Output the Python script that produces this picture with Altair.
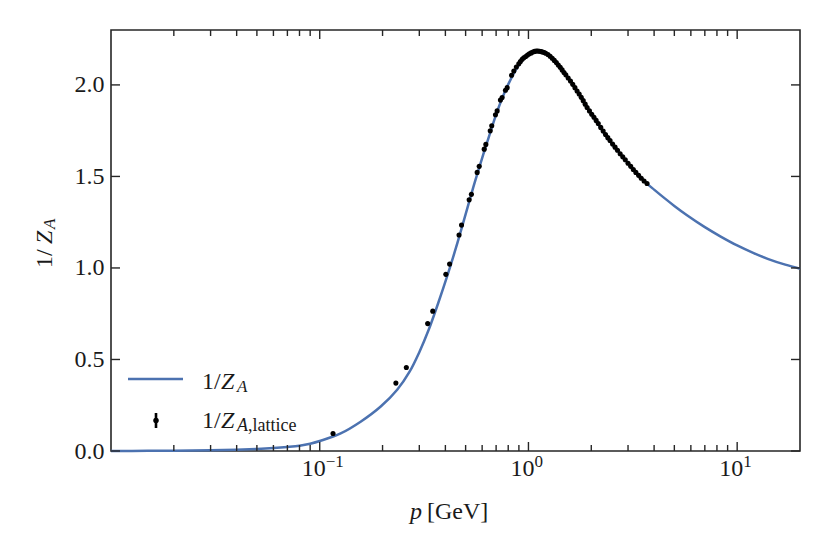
import altair as alt
import pandas as pd

FONT = "Liberation Serif"
TXT = "#1a1a1a"
AX = "#262626"
BLUE = "#4C72B0"
W, H = 689, 421

# ---- fitted curve 1/Z_A ----
p_curve = [0.01, 0.015, 0.02, 0.03, 0.04, 0.05, 0.06, 0.07, 0.08, 0.09,
           0.101, 0.126, 0.157, 0.196, 0.235, 0.27, 0.30, 0.3334, 0.37, 0.408,
           0.45, 0.494, 0.544, 0.6, 0.656, 0.7, 0.75, 0.8, 0.85, 0.9,
           0.95, 1.0, 1.05, 1.1, 1.15, 1.2, 1.32, 1.45, 1.59, 1.75,
           1.91, 2.1, 2.29, 2.5, 2.75, 3.0, 3.19, 3.4, 3.7, 4.0,
           4.5, 5.0, 5.75, 7.0, 8.3, 10.0, 12.0, 14.0, 17.0, 20.0]
v_curve = [0.0, 0.001, 0.002, 0.004, 0.007, 0.011, 0.016, 0.022, 0.029, 0.040,
           0.056, 0.096, 0.160, 0.243, 0.335, 0.435, 0.540, 0.665, 0.810, 0.955,
           1.112, 1.272, 1.440, 1.600, 1.740, 1.838, 1.930, 2.003, 2.062, 2.108,
           2.143, 2.167, 2.179, 2.185, 2.183, 2.177, 2.135, 2.082, 2.021, 1.950,
           1.877, 1.806, 1.740, 1.680, 1.624, 1.572, 1.537, 1.503, 1.461, 1.428,
           1.380, 1.339, 1.288, 1.223, 1.173, 1.123, 1.081, 1.050, 1.018, 0.996]

# ---- lattice data 1/Z_A,lattice ----
p_lat = [0.1158, 0.2317, 0.260, 0.329, 0.348, 0.402, 0.419, 0.465, 0.478, 0.520,
         0.533, 0.568, 0.581, 0.614, 0.625, 0.656, 0.667, 0.695, 0.708, 0.734,
         0.748, 0.776, 0.791, 0.830, 0.851, 0.875, 0.899, 0.915, 0.933,
         0.95, 0.97, 0.99, 1.01, 1.03, 1.05, 1.07, 1.09, 1.11, 1.13,
         1.15, 1.17, 1.19, 1.21, 1.24, 1.27, 1.30, 1.33, 1.36, 1.39,
         1.42, 1.45, 1.48, 1.51, 1.55, 1.59, 1.63, 1.67, 1.71, 1.75,
         1.79, 1.83, 1.87, 1.91, 1.96, 2.01, 2.06, 2.11, 2.16, 2.22,
         2.28, 2.34, 2.40, 2.46, 2.53, 2.60, 2.67, 2.75, 2.83, 2.91,
         3.00, 3.09, 3.18, 3.27, 3.37, 3.47, 3.58, 3.70]
v_lat = [0.096, 0.371, 0.456, 0.696, 0.764, 0.965, 1.021, 1.180, 1.234, 1.372,
         1.402, 1.522, 1.555, 1.649, 1.675, 1.749, 1.777, 1.837, 1.858, 1.917,
         1.931, 1.971, 1.985, 2.053, 2.076, 2.098, 2.116, 2.128, 2.140,
         2.148, 2.155, 2.163, 2.170, 2.175, 2.180, 2.183, 2.185, 2.185, 2.184,
         2.182, 2.180, 2.177, 2.173, 2.166, 2.157, 2.146, 2.134, 2.122, 2.109,
         2.096, 2.082, 2.068, 2.055, 2.038, 2.021, 2.003, 1.985, 1.967, 1.950,
         1.932, 1.914, 1.895, 1.877, 1.858, 1.840, 1.823, 1.806, 1.789, 1.768,
         1.748, 1.729, 1.712, 1.696, 1.677, 1.660, 1.643, 1.624, 1.607, 1.591,
         1.572, 1.555, 1.538, 1.522, 1.506, 1.490, 1.475, 1.461]

# ---- axis ticks / labels ----
x_major = [0.1, 1.0, 10.0]
x_major_sup = ["\u22121", "0", "1"]
x_minor = [0.02, 0.03, 0.04, 0.05, 0.06, 0.07, 0.08, 0.09,
           0.2, 0.3, 0.4, 0.5, 0.6, 0.7, 0.8, 0.9,
           2, 3, 4, 5, 6, 7, 8, 9]
y_major = [0.0, 0.5, 1.0, 1.5, 2.0]

df_curve = pd.DataFrame({"p": p_curve, "v": v_curve})
df_lat = pd.DataFrame({"p": p_lat, "v": v_lat})
df_xmaj = pd.DataFrame({"p": x_major, "sup": x_major_sup})
df_xmin = pd.DataFrame({"p": x_minor})
df_ymaj = pd.DataFrame({"v": y_major})
one = pd.DataFrame({"k": [0]})

x_scale = alt.Scale(type="log", domain=[0.01, 20], nice=False)
y_scale = alt.Scale(domain=[0, 2.3], nice=False, zero=False)
y_axis = alt.Axis(values=y_major, format=".1f", ticks=False, domain=False, grid=False,
                  labelFont=FONT, labelFontSize=24, labelColor=TXT, labelPadding=7,
                  title=None)

X = alt.X("p:Q", scale=x_scale, axis=None)
Y = alt.Y("v:Q", scale=y_scale, axis=y_axis)

curve = alt.Chart(df_curve).mark_line(color=BLUE, strokeWidth=2.5, interpolate="catmull-rom").encode(x=X, y=Y)
points = alt.Chart(df_lat).mark_circle(color="black", size=26, opacity=1).encode(x=X, y=Y)

tick_style = dict(color=AX, strokeWidth=1.4)
xt_bot_maj = alt.Chart(df_xmaj).mark_rule(**tick_style).encode(x=X, y=alt.value(H), y2=alt.value(H - 9))
xt_top_maj = alt.Chart(df_xmaj).mark_rule(**tick_style).encode(x=X, y=alt.value(0), y2=alt.value(9))
xt_bot_min = alt.Chart(df_xmin).mark_rule(**tick_style).encode(x=X, y=alt.value(H), y2=alt.value(H - 6))
xt_top_min = alt.Chart(df_xmin).mark_rule(**tick_style).encode(x=X, y=alt.value(0), y2=alt.value(6))
yt_left = alt.Chart(df_ymaj).mark_rule(**tick_style).encode(y=Y, x=alt.value(0), x2=alt.value(9))
yt_right = alt.Chart(df_ymaj).mark_rule(**tick_style).encode(y=Y, x=alt.value(W - 9), x2=alt.value(W))

xl_base = alt.Chart(df_xmaj).mark_text(align="right", baseline="alphabetic", dx=6, font=FONT,
                                        fontSize=24, color=TXT).encode(
    x=X, y=alt.value(H + 25), text=alt.value("10"))
xl_sup = alt.Chart(df_xmaj).mark_text(align="left", baseline="alphabetic", dx=6, font=FONT,
                                       fontSize=17, color=TXT).encode(
    x=X, y=alt.value(H + 16), text="sup:N")


def txt(s, x, y, size=24, italic=False, angle=0):
    kw = dict(align="left", baseline="alphabetic", font=FONT, fontSize=size, color=TXT)
    if italic:
        kw["fontStyle"] = "italic"
    if angle:
        kw["angle"] = angle
    return alt.Chart(one).mark_text(**kw).encode(x=alt.value(x), y=alt.value(y), text=alt.value(s))


# x-axis title: p [GeV]
xtitle = [txt("p", 299, H + 68, italic=True), txt("[GeV]", 316, H + 68)]
# y-axis title: 1/Z_A (rotated)
ytitle = [txt("1/", -59, 238, angle=270), txt("Z", -59, 214, italic=True, angle=270),
          txt("A", -56, 199, size=17, italic=True, angle=270)]

# legend
leg_line = alt.Chart(one).mark_rule(color=BLUE, strokeWidth=2.5).encode(
    x=alt.value(17), x2=alt.value(72), y=alt.value(349))
leg_bar = alt.Chart(one).mark_rule(color="black", strokeWidth=2.6).encode(
    x=alt.value(45), y=alt.value(383), y2=alt.value(398))
leg_dot = alt.Chart(one).mark_circle(color="black", size=30, opacity=1).encode(
    x=alt.value(45), y=alt.value(390.5))
leg_text = [
    txt("1/", 91, 359), txt("Z", 110, 359, italic=True), txt("A", 126, 362, size=17, italic=True),
    txt("1/", 91, 398), txt("Z", 110, 398, italic=True), txt("A", 126, 401, size=18, italic=True),
    txt(",lattice", 137, 401, size=18),
]

chart = alt.layer(
    curve, points,
    xt_bot_maj, xt_top_maj, xt_bot_min, xt_top_min, yt_left, yt_right,
    xl_base, xl_sup, *xtitle, *ytitle,
    leg_line, leg_bar, leg_dot, *leg_text,
).properties(
    width=W, height=H,
    padding={"left": 103, "top": 22, "right": 22, "bottom": 95},
    autosize=alt.AutoSizeParams(type="none"),
).configure_view(stroke=AX, strokeWidth=1.6)

chart.save("out.html", embed_options={"renderer": "svg", "actions": False})
